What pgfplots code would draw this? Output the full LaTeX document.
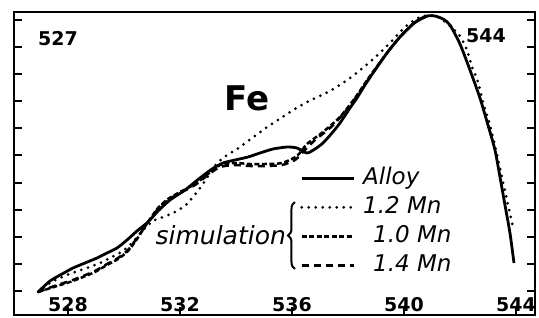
\documentclass[border=0pt]{standalone}
\usepackage{fontspec}
\setmainfont{DejaVu Sans}
\usepackage{pgfplots}
\pgfplotsset{compat=1.18}
\usetikzlibrary{decorations.pathreplacing}
\begin{document}
\begin{tikzpicture}
\begin{axis}[
  scale only axis, width=521pt, height=303pt,
  xmin=526.071, xmax=544.68, ymin=0, ymax=303,
  axis line style={line width=2.4pt},
  xtick={528,532,536,540,544},
  xtick pos=bottom,
  ytick={24,51,78,105,132,160,187,214,241,268,295},
  ytick pos=both, yticklabels={},
  tick align=inside,
  major tick length=8pt,
  tick style={line width=1.8pt, black},
  /pgf/number format/assume math mode=true,
  /pgf/number format/1000 sep={},
  xticklabel style={anchor=south, inner sep=0pt, yshift=3pt, font=\fontsize{19}{20}\selectfont\bfseries},
  legend style={at={(axis cs:536.286,148)}, anchor=north west, draw=none, fill=none,
     inner sep=0pt, row sep=7.1pt, column sep=8pt,
     nodes={inner sep=0pt, text height=17pt, text depth=5pt},
     font=\fontsize{23}{28}\selectfont\itshape},
  legend cell align=left,
  legend image code/.code={\draw[#1] (0pt,0pt) -- (52pt,0pt);},
]
\coordinate (SW) at (rel axis cs:0,0);
\coordinate (NE) at (rel axis cs:1,1);
% Alloy
\addplot[black, line width=2.8pt, smooth, tension=0.4] coordinates {
(526.929,23) (527.357,34) (527.786,41) (528.179,47) (528.607,52) (529.036,57)
(529.393,62) (529.75,67) (530.107,75) (530.464,84) (530.857,93) (531.214,104)
(531.643,115) (532.179,125) (532.714,137) (533.143,146) (533.536,152) (533.964,155)
(534.429,158) (534.857,162) (535.321,166) (535.821,168) (536.179,167) (536.536,162)
(536.821,166) (537.107,172) (537.429,182) (537.714,192) (538.071,207) (538.321,217)
(538.607,230) (538.893,242) (539.393,262) (539.857,278) (540.321,291) (540.571,296)
(540.821,299) (541.107,299) (541.393,296) (541.643,290) (542.0,271) (542.357,245)
(542.714,217) (543.0,190) (543.25,165) (543.429,138) (543.607,110) (543.786,82)
(543.929,52)
};
\addlegendentry{Alloy}
% 1.2 Mn
\addplot[black, line width=3pt, line cap=round, dash pattern=on 0pt off 7pt, smooth, tension=0.4] coordinates {
(526.929,23) (527.357,32) (527.786,38) (528.25,43) (528.679,47) (529.143,52)
(529.571,58) (529.964,64) (530.321,73) (530.679,85) (531.036,94) (531.393,98)
(531.821,103) (532.25,111) (532.607,123) (532.893,134) (533.179,147) (533.536,157)
(534.143,168) (534.964,185) (535.929,203) (536.536,213) (537.357,224) (538.071,237)
(538.786,253) (539.5,272) (540.036,288) (540.5,297) (540.929,300) (541.286,297)
(541.643,289) (542.0,279) (542.25,265) (542.429,248) (542.643,233) (542.821,213)
(543.071,190) (543.286,165) (543.5,138) (543.679,115) (543.893,88)
};
\addlegendentry{1.2 Mn}
% 1.0 Mn
\addplot[black, line width=2.5pt, dash pattern=on 5pt off 2.5pt, smooth, tension=0.4] coordinates {
(526.929,23) (527.607,29) (528.071,33) (528.536,38) (528.964,43) (529.393,50)
(529.786,56) (530.143,64) (530.464,76) (530.857,93) (531.214,107) (531.571,116)
(532.0,123) (532.536,131) (533.0,141) (533.429,150) (533.964,152) (534.5,151)
(535.036,151) (535.643,152) (536.179,159) (536.536,171) (537.107,183) (537.714,198)
(538.25,217) (538.786,239) (539.393,262) (539.857,278) (540.321,291) (540.821,299)
};
\addlegendentry{\hspace*{10pt}1.0 Mn}
% 1.4 Mn
\addplot[black, line width=2.5pt, dash pattern=on 7pt off 5pt, smooth, tension=0.4] coordinates {
(526.929,23) (527.607,30) (528.071,34) (528.536,39) (528.964,44) (529.393,51)
(529.786,57) (530.143,65) (530.464,77) (530.857,93) (531.214,106) (531.571,115)
(532.0,122) (532.536,130) (533.0,140) (533.429,148) (533.964,150) (534.5,149)
(535.036,149) (535.643,150) (536.107,155) (536.464,165) (536.821,175) (537.357,187)
(537.893,203) (538.321,219) (538.786,238) (539.393,262) (539.857,278) (540.321,291)
(540.821,299)
};
\addlegendentry{\hspace*{10pt}1.4 Mn}
\node[font=\fontsize{19}{20}\selectfont\bfseries] at (axis cs:527.643,276) {527};
\node[font=\fontsize{19}{20}\selectfont\bfseries] at (axis cs:542.929,279) {544};
\node[font=\fontsize{34}{36}\selectfont\bfseries] at (axis cs:534.393,217) {Fe};
\node[anchor=east, inner sep=0pt, font=\fontsize{25}{28}\selectfont\itshape] at (axis cs:535.79,80) {simulation};
\draw[line width=2pt, decorate, decoration={brace, amplitude=7pt}] (axis cs:536.107,46) -- (axis cs:536.107,113);
\end{axis}
\pgfresetboundingbox
\path ([shift={(-14pt,-2pt)}]SW) rectangle ([shift={(4pt,12pt)}]NE);
\end{tikzpicture}
\end{document}
